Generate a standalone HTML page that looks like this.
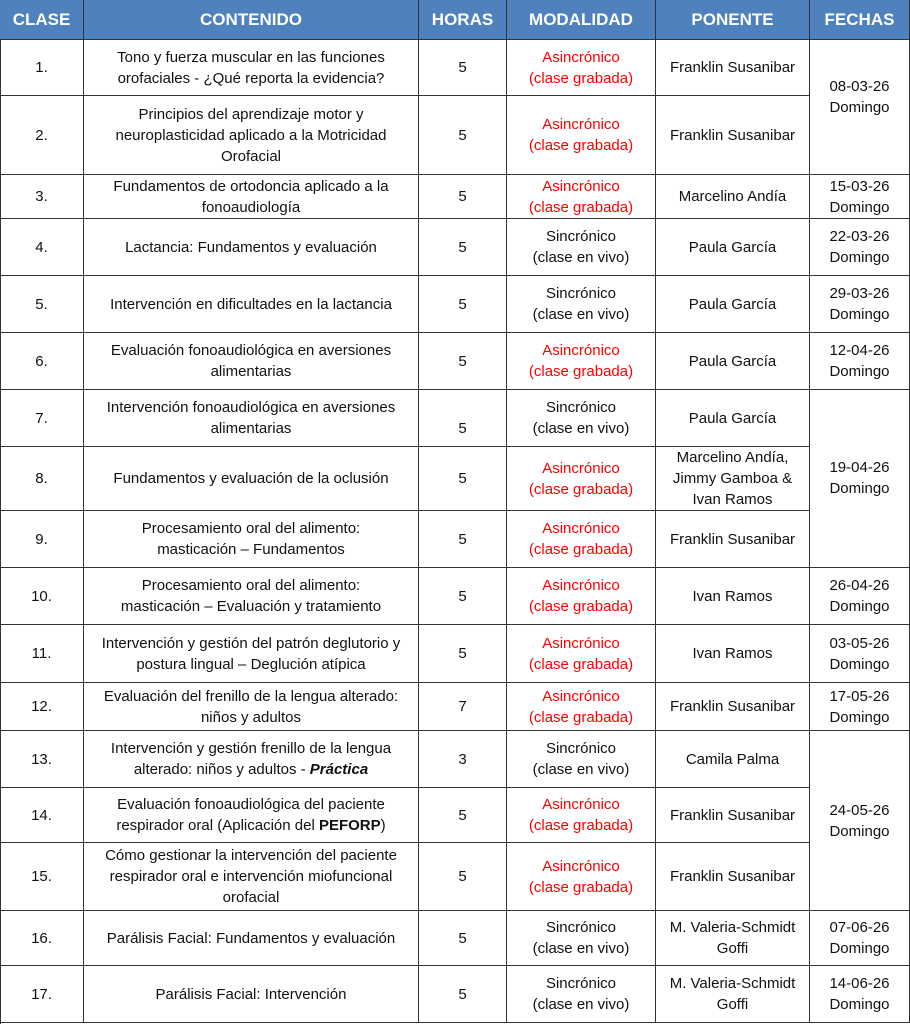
<!DOCTYPE html>
<html><head><meta charset="utf-8"><style>
body{margin:0;width:910px;height:1024px;background:#fff;position:relative;overflow:hidden;font-family:"Liberation Sans",Arial,sans-serif;font-size:15px;line-height:21px;color:#111}
.c{position:absolute;display:flex;align-items:center;justify-content:center;text-align:center;box-sizing:border-box;border-right:1px solid #333;border-bottom:1px solid #333;padding:0 4px}
.h{background:#4f81bd;color:#fff;font-weight:bold;font-size:17px;border-color:#333}
.r{color:#f00}
</style></head><body>
<div style="position:absolute;left:0;top:0;width:910px;height:1024px;box-sizing:border-box;border-left:1px solid #333;border-top:1px solid #333"></div>
<div class="c h" style="left:0;top:0;width:84px;height:40px">CLASE</div>
<div class="c h" style="left:84px;top:0;width:335px;height:40px">CONTENIDO</div>
<div class="c h" style="left:419px;top:0;width:88px;height:40px">HORAS</div>
<div class="c h" style="left:507px;top:0;width:149px;height:40px">MODALIDAD</div>
<div class="c h" style="left:656px;top:0;width:154px;height:40px">PONENTE</div>
<div class="c h" style="left:810px;top:0;width:100px;height:40px">FECHAS</div>

<!-- rows -->
<div class="c" style="left:0;top:40px;width:84px;height:56px">1.</div>
<div class="c" style="left:84px;top:40px;width:335px;height:56px">Tono y fuerza muscular en las funciones orofaciales - ¿Qué reporta la evidencia?</div>
<div class="c" style="left:419px;top:40px;width:88px;height:56px">5</div>
<div class="c r" style="left:507px;top:40px;width:149px;height:56px">Asincrónico<br>(clase grabada)</div>
<div class="c" style="left:656px;top:40px;width:154px;height:56px">Franklin Susanibar</div>

<div class="c" style="left:0;top:96px;width:84px;height:79px">2.</div>
<div class="c" style="left:84px;top:96px;width:335px;height:79px">Principios del aprendizaje motor y neuroplasticidad aplicado a la Motricidad Orofacial</div>
<div class="c" style="left:419px;top:96px;width:88px;height:79px">5</div>
<div class="c r" style="left:507px;top:96px;width:149px;height:79px">Asincrónico<br>(clase grabada)</div>
<div class="c" style="left:656px;top:96px;width:154px;height:79px">Franklin Susanibar</div>
<div class="c" style="left:810px;top:40px;width:100px;height:135px;align-items:flex-start;padding-top:36px">08-03-26<br>Domingo</div>

<div class="c" style="left:0;top:175px;width:84px;height:44px">3.</div>
<div class="c" style="left:84px;top:175px;width:335px;height:44px">Fundamentos de ortodoncia aplicado a la fonoaudiología</div>
<div class="c" style="left:419px;top:175px;width:88px;height:44px">5</div>
<div class="c r" style="left:507px;top:175px;width:149px;height:44px">Asincrónico<br>(clase grabada)</div>
<div class="c" style="left:656px;top:175px;width:154px;height:44px">Marcelino Andía</div>
<div class="c" style="left:810px;top:175px;width:100px;height:44px">15-03-26<br>Domingo</div>

<div class="c" style="left:0;top:219px;width:84px;height:57px">4.</div>
<div class="c" style="left:84px;top:219px;width:335px;height:57px">Lactancia: Fundamentos y evaluación</div>
<div class="c" style="left:419px;top:219px;width:88px;height:57px">5</div>
<div class="c" style="left:507px;top:219px;width:149px;height:57px">Sincrónico<br>(clase en vivo)</div>
<div class="c" style="left:656px;top:219px;width:154px;height:57px">Paula García</div>
<div class="c" style="left:810px;top:219px;width:100px;height:57px">22-03-26<br>Domingo</div>

<div class="c" style="left:0;top:276px;width:84px;height:57px">5.</div>
<div class="c" style="left:84px;top:276px;width:335px;height:57px">Intervención en dificultades en la lactancia</div>
<div class="c" style="left:419px;top:276px;width:88px;height:57px">5</div>
<div class="c" style="left:507px;top:276px;width:149px;height:57px">Sincrónico<br>(clase en vivo)</div>
<div class="c" style="left:656px;top:276px;width:154px;height:57px">Paula García</div>
<div class="c" style="left:810px;top:276px;width:100px;height:57px">29-03-26<br>Domingo</div>

<div class="c" style="left:0;top:333px;width:84px;height:57px">6.</div>
<div class="c" style="left:84px;top:333px;width:335px;height:57px">Evaluación fonoaudiológica en aversiones alimentarias</div>
<div class="c" style="left:419px;top:333px;width:88px;height:57px">5</div>
<div class="c r" style="left:507px;top:333px;width:149px;height:57px">Asincrónico<br>(clase grabada)</div>
<div class="c" style="left:656px;top:333px;width:154px;height:57px">Paula García</div>
<div class="c" style="left:810px;top:333px;width:100px;height:57px">12-04-26<br>Domingo</div>

<div class="c" style="left:0;top:390px;width:84px;height:57px">7.</div>
<div class="c" style="left:84px;top:390px;width:335px;height:57px">Intervención fonoaudiológica en aversiones alimentarias</div>
<div class="c" style="left:419px;top:390px;width:88px;height:57px;padding-top:20px">5</div>
<div class="c" style="left:507px;top:390px;width:149px;height:57px">Sincrónico<br>(clase en vivo)</div>
<div class="c" style="left:656px;top:390px;width:154px;height:57px">Paula García</div>

<div class="c" style="left:0;top:447px;width:84px;height:64px">8.</div>
<div class="c" style="left:84px;top:447px;width:335px;height:64px">Fundamentos y evaluación de la oclusión</div>
<div class="c" style="left:419px;top:447px;width:88px;height:64px">5</div>
<div class="c r" style="left:507px;top:447px;width:149px;height:64px">Asincrónico<br>(clase grabada)</div>
<div class="c" style="left:656px;top:447px;width:154px;height:64px">Marcelino Andía, Jimmy Gamboa &amp; Ivan Ramos</div>

<div class="c" style="left:0;top:511px;width:84px;height:57px">9.</div>
<div class="c" style="left:84px;top:511px;width:335px;height:57px">Procesamiento oral del alimento:<br>masticación – Fundamentos</div>
<div class="c" style="left:419px;top:511px;width:88px;height:57px">5</div>
<div class="c r" style="left:507px;top:511px;width:149px;height:57px">Asincrónico<br>(clase grabada)</div>
<div class="c" style="left:656px;top:511px;width:154px;height:57px">Franklin Susanibar</div>
<div class="c" style="left:810px;top:390px;width:100px;height:178px;align-items:flex-start;padding-top:67px">19-04-26<br>Domingo</div>

<div class="c" style="left:0;top:568px;width:84px;height:57px">10.</div>
<div class="c" style="left:84px;top:568px;width:335px;height:57px">Procesamiento oral del alimento:<br>masticación – Evaluación y tratamiento</div>
<div class="c" style="left:419px;top:568px;width:88px;height:57px">5</div>
<div class="c r" style="left:507px;top:568px;width:149px;height:57px">Asincrónico<br>(clase grabada)</div>
<div class="c" style="left:656px;top:568px;width:154px;height:57px">Ivan Ramos</div>
<div class="c" style="left:810px;top:568px;width:100px;height:57px">26-04-26<br>Domingo</div>

<div class="c" style="left:0;top:625px;width:84px;height:58px">11.</div>
<div class="c" style="left:84px;top:625px;width:335px;height:58px">Intervención y gestión del patrón deglutorio y postura lingual – Deglución atípica</div>
<div class="c" style="left:419px;top:625px;width:88px;height:58px">5</div>
<div class="c r" style="left:507px;top:625px;width:149px;height:58px">Asincrónico<br>(clase grabada)</div>
<div class="c" style="left:656px;top:625px;width:154px;height:58px">Ivan Ramos</div>
<div class="c" style="left:810px;top:625px;width:100px;height:58px">03-05-26<br>Domingo</div>

<div class="c" style="left:0;top:683px;width:84px;height:48px">12.</div>
<div class="c" style="left:84px;top:683px;width:335px;height:48px">Evaluación del frenillo de la lengua alterado:<br>niños y adultos</div>
<div class="c" style="left:419px;top:683px;width:88px;height:48px">7</div>
<div class="c r" style="left:507px;top:683px;width:149px;height:48px">Asincrónico<br>(clase grabada)</div>
<div class="c" style="left:656px;top:683px;width:154px;height:48px">Franklin Susanibar</div>
<div class="c" style="left:810px;top:683px;width:100px;height:48px">17-05-26<br>Domingo</div>

<div class="c" style="left:0;top:731px;width:84px;height:57px">13.</div>
<div class="c" style="left:84px;top:731px;width:335px;height:57px"><span>Intervención y gestión frenillo de la lengua<br>alterado: niños y adultos - <b><i>Práctica</i></b></span></div>
<div class="c" style="left:419px;top:731px;width:88px;height:57px">3</div>
<div class="c" style="left:507px;top:731px;width:149px;height:57px">Sincrónico<br>(clase en vivo)</div>
<div class="c" style="left:656px;top:731px;width:154px;height:57px">Camila Palma</div>

<div class="c" style="left:0;top:788px;width:84px;height:55px">14.</div>
<div class="c" style="left:84px;top:788px;width:335px;height:55px"><span>Evaluación fonoaudiológica del paciente<br>respirador oral (Aplicación del <b>PEFORP</b>)</span></div>
<div class="c" style="left:419px;top:788px;width:88px;height:55px">5</div>
<div class="c r" style="left:507px;top:788px;width:149px;height:55px">Asincrónico<br>(clase grabada)</div>
<div class="c" style="left:656px;top:788px;width:154px;height:55px">Franklin Susanibar</div>

<div class="c" style="left:0;top:843px;width:84px;height:68px">15.</div>
<div class="c" style="left:84px;top:843px;width:335px;height:68px">Cómo gestionar la intervención del paciente respirador oral e intervención miofuncional orofacial</div>
<div class="c" style="left:419px;top:843px;width:88px;height:68px">5</div>
<div class="c r" style="left:507px;top:843px;width:149px;height:68px">Asincrónico<br>(clase grabada)</div>
<div class="c" style="left:656px;top:843px;width:154px;height:68px">Franklin Susanibar</div>
<div class="c" style="left:810px;top:731px;width:100px;height:180px">24-05-26<br>Domingo</div>

<div class="c" style="left:0;top:911px;width:84px;height:55px">16.</div>
<div class="c" style="left:84px;top:911px;width:335px;height:55px">Parálisis Facial: Fundamentos y evaluación</div>
<div class="c" style="left:419px;top:911px;width:88px;height:55px">5</div>
<div class="c" style="left:507px;top:911px;width:149px;height:55px">Sincrónico<br>(clase en vivo)</div>
<div class="c" style="left:656px;top:911px;width:154px;height:55px">M. Valeria-Schmidt Goffi</div>
<div class="c" style="left:810px;top:911px;width:100px;height:55px">07-06-26<br>Domingo</div>

<div class="c" style="left:0;top:966px;width:84px;height:57px">17.</div>
<div class="c" style="left:84px;top:966px;width:335px;height:57px">Parálisis Facial: Intervención</div>
<div class="c" style="left:419px;top:966px;width:88px;height:57px">5</div>
<div class="c" style="left:507px;top:966px;width:149px;height:57px">Sincrónico<br>(clase en vivo)</div>
<div class="c" style="left:656px;top:966px;width:154px;height:57px">M. Valeria-Schmidt Goffi</div>
<div class="c" style="left:810px;top:966px;width:100px;height:57px">14-06-26<br>Domingo</div>
</body></html>
